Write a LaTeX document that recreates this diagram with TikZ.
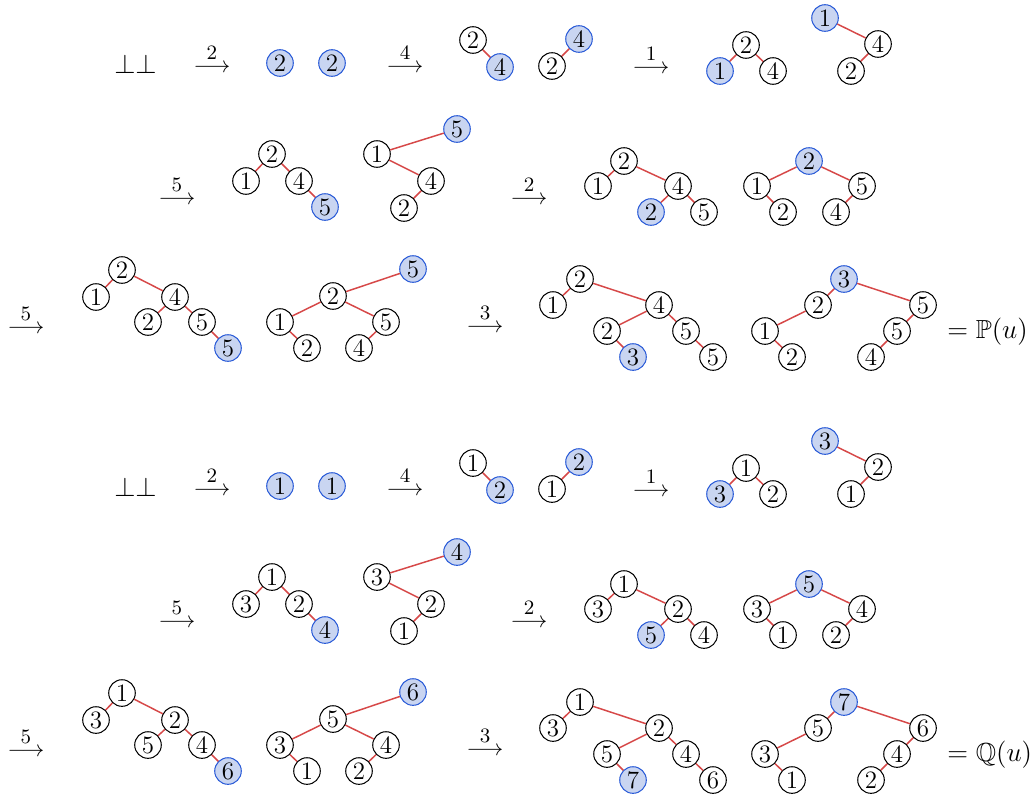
\documentclass[tikz,border=0pt]{standalone}
\usepackage{amsmath,amssymb}
\definecolor{bfill}{RGB}{201,213,241}
\definecolor{bline}{RGB}{40,90,215}
\definecolor{ered}{RGB}{214,72,72}
\newcommand{\arlab}[1]{$\overset{\mbox{\small #1}}{\longrightarrow}$}
\tikzset{
  nd/.style={circle, draw=black, fill=white, minimum size=11.7pt, inner sep=0pt, line width=0.45pt, font=\fontsize{11}{13}\selectfont},
  nb/.style={nd, draw=bline, fill=bfill},
  ed/.style={draw=ered, line width=0.65pt},
  op/.style={inner sep=0pt, anchor=base},
  bigtxt/.style={inner sep=0pt, font=\fontsize{11.5}{14}\selectfont},
}
\begin{document}
\begin{tikzpicture}[x=0.44pt, y=-0.44pt]
\useasboundingbox (0,0) rectangle (1033,794);
% ================= top half =================
\begin{scope}[name prefix=p-]
\node[bigtxt, anchor=base] (bot) at (135.5,73) {$\bot\bot$};
\node[op] (ar1) at (212,72) {\arlab{2}};
\node[nb] (c1) at (280,63) {2};
\node[nb] (c2) at (332,63) {2};
\node[op] (ar2) at (405,72) {\arlab{4}};
\node[nd] (t1a) at (473,40) {2};
\node[nb] (t1b) at (500,67) {4};
\draw[ed] (t1a) -- (t1b);
\node[nd] (t2a) at (552,66) {2};
\node[nb] (t2b) at (579,39) {4};
\draw[ed] (t2a) -- (t2b);
\node[op] (ar3) at (651,73) {\arlab{1}};
\node[nd] (t3r) at (746,45) {2};
\node[nb] (t3l) at (720,71) {1};
\node[nd] (t3x) at (773,71) {4};
\draw[ed] (t3r) -- (t3l); \draw[ed] (t3r) -- (t3x);
\node[nb] (t4r) at (825,18) {1};
\node[nd] (t4m) at (878,44) {4};
\node[nd] (t4l) at (851,71) {2};
\draw[ed] (t4r) -- (t4m); \draw[ed] (t4m) -- (t4l);
% row 2
\node[op] (ar4) at (177,204) {\arlab{5}};
\node[nd] (A1) at (272,154) {2};
\node[nd] (A2) at (246,181) {1};
\node[nd] (A3) at (299,181) {4};
\node[nb] (A4) at (325,207) {5};
\draw[ed] (A1) -- (A2); \draw[ed] (A1) -- (A3); \draw[ed] (A3) -- (A4);
\node[nb] (B1) at (457,129) {5};
\node[nd] (B2) at (377,154) {1};
\node[nd] (B3) at (431,181) {4};
\node[nd] (B4) at (404,208) {2};
\draw[ed] (B1) -- (B2); \draw[ed] (B2) -- (B3); \draw[ed] (B3) -- (B4);
\node[op] (ar5) at (529,204) {\arlab{2}};
\node[nd] (C1) at (624,161) {2};
\node[nd] (C2) at (598,186) {1};
\node[nd] (C3) at (678,186) {4};
\node[nb] (C4) at (651,212) {2};
\node[nd] (C5) at (704,212) {5};
\draw[ed] (C1) -- (C2); \draw[ed] (C1) -- (C3); \draw[ed] (C3) -- (C4); \draw[ed] (C3) -- (C5);
\node[nb] (D1) at (809,161) {2};
\node[nd] (D2) at (757,186) {1};
\node[nd] (D3) at (862,186) {5};
\node[nd] (D4) at (783,212) {2};
\node[nd] (D5) at (836,212) {4};
\draw[ed] (D1) -- (D2); \draw[ed] (D1) -- (D3); \draw[ed] (D2) -- (D4); \draw[ed] (D3) -- (D5);
% row 3
\node[op] (ar6) at (26,333) {\arlab{5}};
\node[nd] (E1) at (122,270) {2};
\node[nd] (E2) at (96,297) {1};
\node[nd] (E3) at (175,297) {4};
\node[nd] (E4) at (148,322) {2};
\node[nd] (E5) at (202,322) {5};
\node[nb] (E6) at (228,348) {5};
\draw[ed] (E1) -- (E2); \draw[ed] (E1) -- (E3); \draw[ed] (E3) -- (E4); \draw[ed] (E3) -- (E5); \draw[ed] (E5) -- (E6);
\node[nb] (F1) at (413,269) {5};
\node[nd] (F2) at (333,296) {2};
\node[nd] (F3) at (280,322) {1};
\node[nd] (F4) at (386,322) {5};
\node[nd] (F5) at (307,348) {2};
\node[nd] (F6) at (359,348) {4};
\draw[ed] (F1) -- (F2); \draw[ed] (F2) -- (F3); \draw[ed] (F2) -- (F4); \draw[ed] (F3) -- (F5); \draw[ed] (F4) -- (F6);
\node[op] (ar7) at (485,332) {\arlab{3}};
\node[nd] (G1) at (580,279) {2};
\node[nd] (G2) at (553,305) {1};
\node[nd] (G3) at (659,305) {4};
\node[nd] (G4) at (607,331) {2};
\node[nd] (G5) at (686,331) {5};
\node[nb] (G6) at (633,357) {3};
\node[nd] (G7) at (713,357) {5};
\draw[ed] (G1) -- (G2); \draw[ed] (G1) -- (G3); \draw[ed] (G3) -- (G4); \draw[ed] (G3) -- (G5); \draw[ed] (G4) -- (G6); \draw[ed] (G5) -- (G7);
\node[nb] (H1) at (844,279) {3};
\node[nd] (H2) at (818,305) {2};
\node[nd] (H3) at (923,305) {5};
\node[nd] (H4) at (765,331) {1};
\node[nd] (H5) at (897,331) {5};
\node[nd] (H6) at (792,357) {2};
\node[nd] (H7) at (871,357) {4};
\draw[ed] (H1) -- (H2); \draw[ed] (H1) -- (H3); \draw[ed] (H2) -- (H4); \draw[ed] (H3) -- (H5); \draw[ed] (H4) -- (H6); \draw[ed] (H5) -- (H7);
\node[bigtxt, anchor=base west] (res) at (947,338) {$=\mathbb{P}(u)$};
\end{scope}
% ================= bottom half =================
\begin{scope}[name prefix=q-, shift={(0,423)}]
\node[bigtxt, anchor=base] (bot) at (135.5,73) {$\bot\bot$};
\node[op] (ar1) at (212,72) {\arlab{2}};
\node[nb] (c1) at (280,63) {1};
\node[nb] (c2) at (332,63) {1};
\node[op] (ar2) at (405,72) {\arlab{4}};
\node[nd] (t1a) at (473,40) {1};
\node[nb] (t1b) at (500,67) {2};
\draw[ed] (t1a) -- (t1b);
\node[nd] (t2a) at (552,66) {1};
\node[nb] (t2b) at (579,39) {2};
\draw[ed] (t2a) -- (t2b);
\node[op] (ar3) at (651,73) {\arlab{1}};
\node[nd] (t3r) at (746,45) {1};
\node[nb] (t3l) at (720,71) {3};
\node[nd] (t3x) at (773,71) {2};
\draw[ed] (t3r) -- (t3l); \draw[ed] (t3r) -- (t3x);
\node[nb] (t4r) at (825,18) {3};
\node[nd] (t4m) at (878,44) {2};
\node[nd] (t4l) at (851,71) {1};
\draw[ed] (t4r) -- (t4m); \draw[ed] (t4m) -- (t4l);
% row 2
\node[op] (ar4) at (177,204) {\arlab{5}};
\node[nd] (A1) at (272,154) {1};
\node[nd] (A2) at (246,181) {3};
\node[nd] (A3) at (299,181) {2};
\node[nb] (A4) at (325,207) {4};
\draw[ed] (A1) -- (A2); \draw[ed] (A1) -- (A3); \draw[ed] (A3) -- (A4);
\node[nb] (B1) at (457,129) {4};
\node[nd] (B2) at (377,154) {3};
\node[nd] (B3) at (431,181) {2};
\node[nd] (B4) at (404,208) {1};
\draw[ed] (B1) -- (B2); \draw[ed] (B2) -- (B3); \draw[ed] (B3) -- (B4);
\node[op] (ar5) at (529,204) {\arlab{2}};
\node[nd] (C1) at (624,161) {1};
\node[nd] (C2) at (598,186) {3};
\node[nd] (C3) at (678,186) {2};
\node[nb] (C4) at (651,212) {5};
\node[nd] (C5) at (704,212) {4};
\draw[ed] (C1) -- (C2); \draw[ed] (C1) -- (C3); \draw[ed] (C3) -- (C4); \draw[ed] (C3) -- (C5);
\node[nb] (D1) at (809,161) {5};
\node[nd] (D2) at (757,186) {3};
\node[nd] (D3) at (862,186) {4};
\node[nd] (D4) at (783,212) {1};
\node[nd] (D5) at (836,212) {2};
\draw[ed] (D1) -- (D2); \draw[ed] (D1) -- (D3); \draw[ed] (D2) -- (D4); \draw[ed] (D3) -- (D5);
% row 3
\node[op] (ar6) at (26,333) {\arlab{5}};
\node[nd] (E1) at (122,270) {1};
\node[nd] (E2) at (96,297) {3};
\node[nd] (E3) at (175,297) {2};
\node[nd] (E4) at (148,322) {5};
\node[nd] (E5) at (202,322) {4};
\node[nb] (E6) at (228,348) {6};
\draw[ed] (E1) -- (E2); \draw[ed] (E1) -- (E3); \draw[ed] (E3) -- (E4); \draw[ed] (E3) -- (E5); \draw[ed] (E5) -- (E6);
\node[nb] (F1) at (413,269) {6};
\node[nd] (F2) at (333,296) {5};
\node[nd] (F3) at (280,322) {3};
\node[nd] (F4) at (386,322) {4};
\node[nd] (F5) at (307,348) {1};
\node[nd] (F6) at (359,348) {2};
\draw[ed] (F1) -- (F2); \draw[ed] (F2) -- (F3); \draw[ed] (F2) -- (F4); \draw[ed] (F3) -- (F5); \draw[ed] (F4) -- (F6);
\node[op] (ar7) at (485,332) {\arlab{3}};
\node[nd] (G1) at (580,279) {1};
\node[nd] (G2) at (553,305) {3};
\node[nd] (G3) at (659,305) {2};
\node[nd] (G4) at (607,331) {5};
\node[nd] (G5) at (686,331) {4};
\node[nb] (G6) at (633,357) {7};
\node[nd] (G7) at (713,357) {6};
\draw[ed] (G1) -- (G2); \draw[ed] (G1) -- (G3); \draw[ed] (G3) -- (G4); \draw[ed] (G3) -- (G5); \draw[ed] (G4) -- (G6); \draw[ed] (G5) -- (G7);
\node[nb] (H1) at (844,279) {7};
\node[nd] (H2) at (818,305) {5};
\node[nd] (H3) at (923,305) {6};
\node[nd] (H4) at (765,331) {3};
\node[nd] (H5) at (897,331) {4};
\node[nd] (H6) at (792,357) {1};
\node[nd] (H7) at (871,357) {2};
\draw[ed] (H1) -- (H2); \draw[ed] (H1) -- (H3); \draw[ed] (H2) -- (H4); \draw[ed] (H3) -- (H5); \draw[ed] (H4) -- (H6); \draw[ed] (H5) -- (H7);
\node[bigtxt, anchor=base west] (res) at (947,338) {$=\mathbb{Q}(u)$};
\end{scope}
\end{tikzpicture}
\end{document}
